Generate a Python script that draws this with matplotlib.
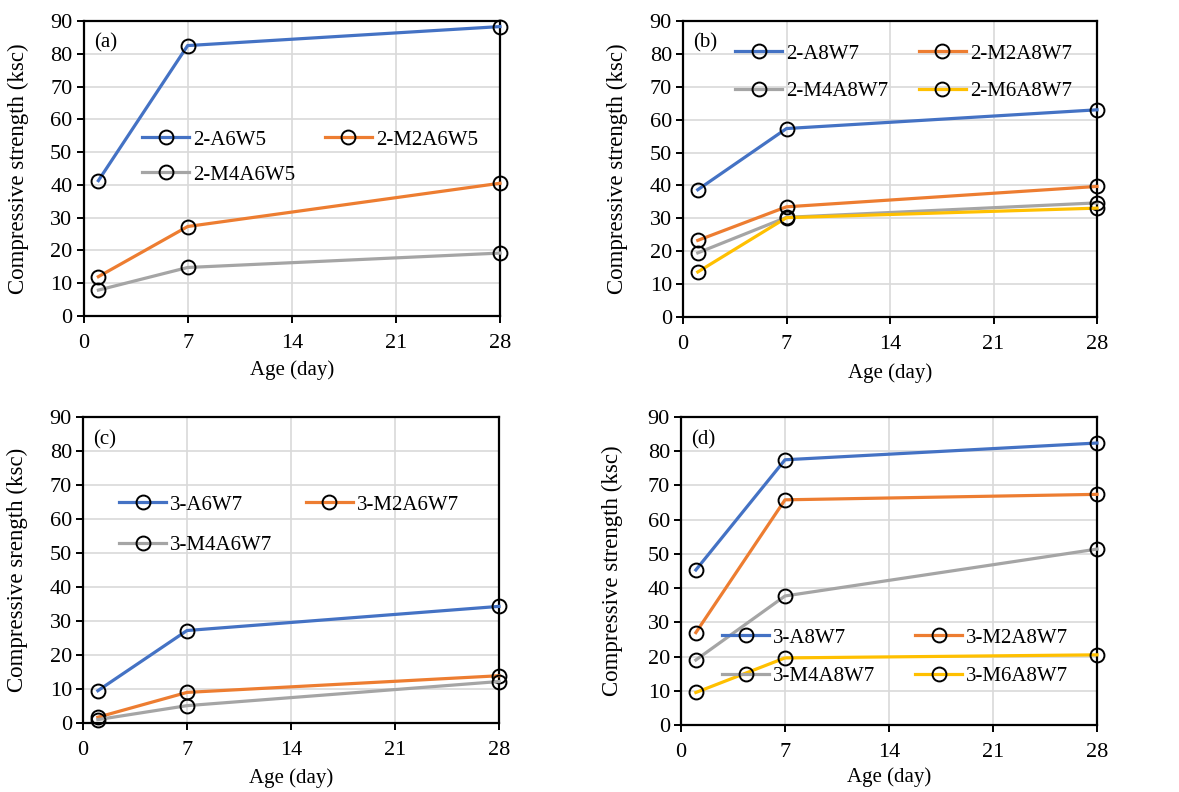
import matplotlib
matplotlib.use("Agg")
import matplotlib.pyplot as plt

plt.rcParams['font.family'] = ['Liberation Serif', 'DejaVu Serif']

days = [1, 7, 28]
xticks = [0, 7, 14, 21, 28]
yticks = [0, 10, 20, 30, 40, 50, 60, 70, 80, 90]

a_names = ["2-A6W5", "2-M2A6W5", "2-M4A6W5"]
a_vals = [[41.3, 82.5, 88.3], [12.0, 27.3, 40.5], [7.9, 14.8, 19.2]]

b_names = ["2-A8W7", "2-M2A8W7", "2-M4A8W7", "2-M6A8W7"]
b_vals = [[38.7, 57.3, 63.0], [23.3, 33.5, 39.7], [19.5, 30.3, 34.7], [13.7, 30.2, 33.1]]

c_names = ["3-A6W7", "3-M2A6W7", "3-M4A6W7"]
c_vals = [[9.5, 27.2, 34.3], [1.7, 9.0, 13.9], [1.0, 5.1, 12.2]]

d_names = ["3-A8W7", "3-M2A8W7", "3-M4A8W7", "3-M6A8W7"]
d_vals = [[45.3, 77.5, 82.4], [27.0, 65.8, 67.4], [19.0, 37.7, 51.4], [9.5, 19.6, 20.5]]

colors = ["#4472C4", "#ED7D31", "#A5A5A5", "#FFC000"]

W, H = 1179, 792
fig = plt.figure(figsize=(W / 100, H / 100), dpi=100)

def px_axes(l, t, r, b):
    return fig.add_axes([l / W, 1 - b / H, (r - l) / W, (b - t) / H])

# box = (left, top, right, bottom) px; leg = (handle start x px, first row centre y px)
panels = [
    dict(box=(83.5, 21, 500, 316), names=a_names, vals=a_vals, tag="(a)",
         ylabel="Compressive strength (ksc)", leg=(142, 137), colsp=1.4, lsp=0.75,
         ylx=18, xly=370),
    dict(box=(683, 21, 1097, 317), names=b_names, vals=b_vals, tag="(b)",
         ylabel="Compressive strength (ksc)", leg=(735, 51), colsp=1.45, lsp=0.85,
         ylx=617, xly=373),
    dict(box=(83, 417, 499, 723), names=c_names, vals=c_vals, tag="(c)",
         ylabel="Compressive srength (ksc)", leg=(119, 502), colsp=1.6, lsp=1.0,
         ylx=17, xly=778),
    dict(box=(681, 417, 1097, 725), names=d_names, vals=d_vals, tag="(d)",
         ylabel="Compressive strength (ksc)", leg=(722, 635), colsp=1.9, lsp=0.9,
         ylx=612, xly=777),
]

for p in panels:
    l, t, r, b = p["box"]
    w, h = r - l, b - t
    ax = px_axes(l, t, r, b)
    handles = []
    for i, (name, v) in enumerate(zip(p["names"], p["vals"])):
        ln, = ax.plot(days, v, color=colors[i], lw=2.3, marker='o', markersize=10,
                      markerfacecolor='none', markeredgecolor='black', markeredgewidth=1.4,
                      label=name, clip_on=False, zorder=3)
        handles.append(ln)
    ax.set_xlim(0, 28)
    ax.set_ylim(0, 90)
    ax.set_xticks(xticks)
    ax.set_yticks(yticks)
    ax.grid(True, color='#D9D9D9', lw=1.2)
    ax.set_axisbelow(True)
    for s in ax.spines.values():
        s.set_color('black')
        s.set_linewidth(1.6)
    ax.tick_params(axis='both', labelsize=16, length=5, width=1.4, color='black')
    ax.tick_params(axis='x', pad=8)
    ax.tick_params(axis='y', pad=3)
    ax.set_xlabel("Age (day)", fontsize=15, va='center')
    ax.xaxis.set_label_coords(0.5, -(p["xly"] - b) / h)
    ax.set_ylabel(p["ylabel"], fontsize=16.5, va='center')
    ax.yaxis.set_label_coords((p["ylx"] - l) / w, 0.5)
    ax.text(0.025, 0.925, p["tag"], transform=ax.transAxes, fontsize=15,
            ha='left', va='center')
    # row-major ordering for a 2-column legend
    order = [0, 2, 1] if len(handles) == 3 else [0, 2, 1, 3]
    hx, hy = p["leg"]
    ax.legend([handles[k] for k in order], [p["names"][k] for k in order],
              loc='upper left',
              bbox_to_anchor=((hx - l) / w, 1 - (hy - 7 - t) / h), ncol=2, frameon=False,
              fontsize=15, handlelength=2.26, handletextpad=0.2,
              columnspacing=p["colsp"], borderaxespad=0, borderpad=0,
              labelspacing=p["lsp"])

fig.savefig("out.png", dpi=100)
